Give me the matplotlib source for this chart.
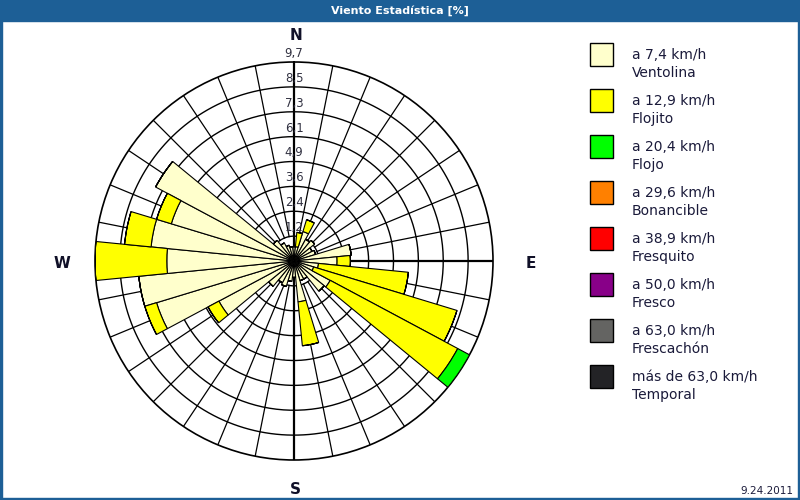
import numpy as np
import matplotlib
matplotlib.use("Agg")
import matplotlib.pyplot as plt
from matplotlib.patches import Rectangle

# wind directions (32 sectors, degrees from N, clockwise)
directions = np.arange(32) * 11.25

# share of time per sector [%] for each speed class
ventolina = [0.7, 0.7, 1.5, 1.2, 1.3, 1.0, 1.1, 2.8,
             2.1, 1.2, 1.0, 2.0, 1.9, 1.0, 1.0, 2.0,
             0.8, 1.0, 1.3, 1.2, 1.6, 4.15, 7.0, 7.6,
             6.2, 7.0, 6.25, 7.65, 1.3, 1.0, 0.8, 0.7]
flojito = [0.0, 0.7, 0.6, 0.0, 0.0, 0.0, 0.0, 0.0,
           0.65, 4.4, 7.3, 7.05, 0.0, 0.0, 0.0, 2.15,
           0.0, 0.0, 0.0, 0.0, 0.0, 0.6, 0.6, 0.0,
           3.5, 1.3, 0.75, 0.0, 0.0, 0.0, 0.0, 0.0]
flojo = [0.0] * 32
flojo[11] = 0.65

ring_labels = ["1,2", "2,4", "3,6", "4,9", "6,1", "7,3", "8,5", "9,7"]
rmax = 9.7

legend_ranges = ["a 7,4 km/h", "a 12,9 km/h", "a 20,4 km/h", "a 29,6 km/h",
                 "a 38,9 km/h", "a 50,0 km/h", "a 63,0 km/h", "más de 63,0 km/h"]
legend_names = ["Ventolina", "Flojito", "Flojo", "Bonancible",
                "Fresquito", "Fresco", "Frescachón", "Temporal"]
colors = ["#ffffcc", "#ffff00", "#00ff00", "#ff8000",
          "#ff0000", "#880088", "#646462", "#232326"]

blue = "#1d5f96"
txt = "#1a1a3a"

fig = plt.figure(figsize=(8, 5), dpi=100)
fig.patch.set_facecolor("white")

# background / frame in pixel coordinates
bg = fig.add_axes([0, 0, 1, 1])
bg.set_xlim(0, 800)
bg.set_ylim(500, 0)
bg.axis("off")
bg.add_patch(Rectangle((0, 0), 800, 21, color=blue))
bg.add_patch(Rectangle((0, 0), 2, 500, color=blue))
bg.add_patch(Rectangle((798, 0), 2, 500, color=blue))
bg.add_patch(Rectangle((0, 498), 800, 2, color=blue))
bg.text(400, 11, "Viento Estadística [%]", color="white", fontsize=8,
        fontweight="bold", ha="center", va="center")
bg.text(793, 491, "9.24.2011", color=txt, fontsize=7.5, ha="right", va="center")

# cardinal labels
for lab, x, y in [("N", 296, 36), ("S", 295, 489), ("W", 62, 264), ("E", 531, 264)]:
    bg.text(x, y, lab, fontsize=11, fontweight="bold", color="#101028",
            ha="center", va="center")

# legend
for i in range(len(legend_names)):
    y0 = 43 + 46 * i
    bg.add_patch(Rectangle((590, y0), 23, 23, facecolor=colors[i],
                           edgecolor="black", linewidth=1))
    bg.text(632, y0 + 12, legend_ranges[i], fontsize=10, color=txt, va="center")
    bg.text(632, y0 + 30, legend_names[i], fontsize=10, color=txt, va="center")

# polar wind rose
cx, cy, R = 294, 261, 199
ax = fig.add_axes([(cx - R) / 800, (500 - cy - R) / 500, 2 * R / 800, 2 * R / 500],
                  projection="polar")
ax.set_theta_zero_location("N")
ax.set_theta_direction(-1)
ax.set_ylim(0, rmax)
ax.grid(False)
ax.set_xticks([])
ax.set_yticks([])
ax.spines["polar"].set_linewidth(1.2)
ax.patch.set_alpha(0)

theta_full = np.linspace(0, 2 * np.pi, 400)
step = rmax / 8
for k in range(1, 8):
    ax.plot(theta_full, np.full_like(theta_full, k * step), color="black", lw=1, zorder=1)
for d in directions:
    t = np.deg2rad(d)
    if d % 90 == 0:
        ax.plot([t, t], [0, rmax], color="black", lw=1.6, zorder=1)
    else:
        ax.plot([t, t], [step, rmax], color="black", lw=0.9, zorder=1)

theta = np.deg2rad(directions)
width = np.deg2rad(11.25)
bottom = np.zeros(32)
for vals, col in [(ventolina, colors[0]), (flojito, colors[1]), (flojo, colors[2])]:
    vals = np.array(vals)
    ax.bar(theta, vals, width=width, bottom=bottom, color=col,
           edgecolor="black", linewidth=0.8, zorder=3)
    bottom = bottom + vals

for k, lab in enumerate(ring_labels):
    ax.text(0, (k + 1) * step + 0.1, lab, fontsize=8.5, color="#303040",
            ha="center", va="bottom", zorder=5)

fig.savefig("out.png", dpi=100)
